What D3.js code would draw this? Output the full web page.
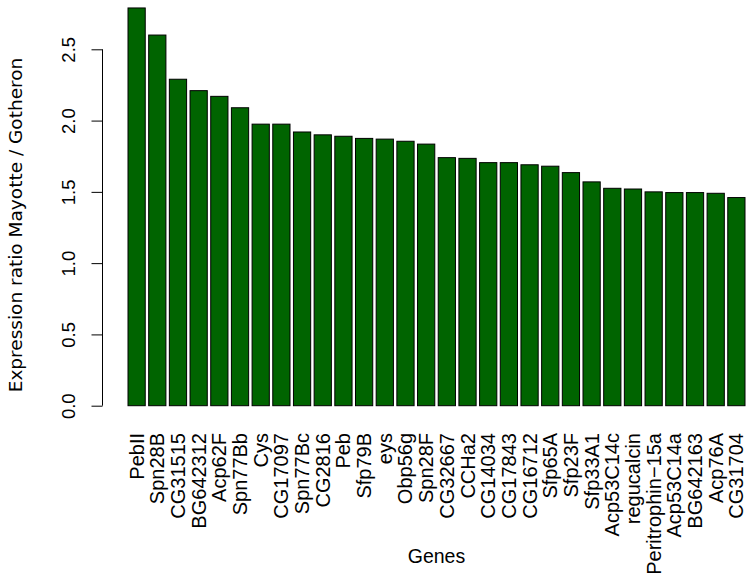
<!DOCTYPE html>
<html>
<head>
<meta charset="utf-8">
<script src="https://cdn.jsdelivr.net/npm/d3@7"></script>
<style>
  body { margin: 0; background: #fff; }
  svg { display: block; }
</style>
</head>
<body>
<div class="chart"></div>
<script>
// genes, sorted by expression ratio
var genes = ["PebII", "Spn28B", "CG31515", "BG642312", "Acp62F", "Spn77Bb", "Cys", "CG17097",
  "Spn77Bc", "CG2816", "Peb", "Sfp79B", "eys", "Obp56g", "Spn28F", "CG32667", "CCHa2",
  "CG14034", "CG17843", "CG16712", "Sfp65A", "Sfp23F", "Sfp33A1", "Acp53C14c", "regucalcin",
  "Peritrophin\u221215a", "Acp53C14a", "BG642163", "Acp76A", "CG31704"];

var ratios = [2.79, 2.60, 2.29, 2.21, 2.17, 2.09, 1.975, 1.975, 1.92, 1.90, 1.89, 1.875, 1.87,
  1.855, 1.835, 1.74, 1.735, 1.705, 1.705, 1.69, 1.68, 1.635, 1.57, 1.525, 1.52, 1.50,
  1.495, 1.495, 1.49, 1.46];

var yTicks = [0, 0.5, 1.0, 1.5, 2.0, 2.5];

var data = genes.map(function(g, i) { return {gene: g, value: ratios[i]}; });

var width = 753, height = 580;

var svg = d3.select(".chart").append("svg")
    .attr("width", width)
    .attr("height", height);

// R barplot: space = 0.2 between bars
var x = d3.scaleBand()
    .domain(genes)
    .range([128, 745])
    .paddingInner(0.2 / 1.2)
    .paddingOuter(0);

var y = d3.scaleLinear()
    .domain([0, 2.5])
    .range([405.7, 49.3]);

// bars
svg.append("g").selectAll("rect")
    .data(data)
    .enter()
      .append("rect")
      .attr("x", function(d) { return x(d.gene); })
      .attr("y", function(d) { return y(d.value); })
      .attr("width", x.bandwidth())
      .attr("height", function(d) { return y(0) - y(d.value); })
      .attr("fill", "#006400")
      .attr("stroke", "#000")
      .attr("stroke-width", 1);

// y axis, R style: line from first to last tick, rotated labels
var yAxis = d3.axisLeft(y)
    .tickValues(yTicks)
    .tickFormat(d3.format(".1f"))
    .tickSize(11)
    .tickSizeOuter(0);

var gy = svg.append("g")
    .attr("transform", "translate(102.5,0)")
    .call(yAxis);

gy.select(".domain")
    .attr("d", "M0," + y(0) + "V" + y(2.5))
    .attr("stroke", "#000");
gy.selectAll(".tick line").attr("stroke", "#000");
gy.selectAll(".tick text")
    .attr("x", 0)
    .attr("dy", 0)
    .attr("transform", "translate(-27.5,0) rotate(-90)")
    .attr("text-anchor", "middle")
    .attr("fill", "#000")
    .style("font-family", "'Liberation Sans'")
    .style("font-size", "18.5px");

// gene labels, perpendicular to the axis
svg.append("g").selectAll("text")
    .data(genes)
    .enter()
      .append("text")
      .attr("transform", function(d) {
        return "translate(" + (x(d) + x.bandwidth() / 2) + ",433) rotate(-90)";
      })
      .attr("dy", "0.35em")
      .attr("text-anchor", "end")
      .style("font-family", "'Liberation Sans'")
      .style("font-size", "20px")
      .text(function(d) { return d; });

// axis titles
svg.append("text")
    .attr("x", 436.5)
    .attr("y", 563)
    .attr("text-anchor", "middle")
    .style("font-family", "'Liberation Sans'")
    .style("font-size", "19.5px")
    .text("Genes");

svg.append("text")
    .attr("transform", "translate(22,225) rotate(-90)")
    .attr("text-anchor", "middle")
    .style("font-family", "'DejaVu Sans'")
    .style("font-size", "18.5px")
    .text("Expression ratio Mayotte / Gotheron");
</script>
</body>
</html>
